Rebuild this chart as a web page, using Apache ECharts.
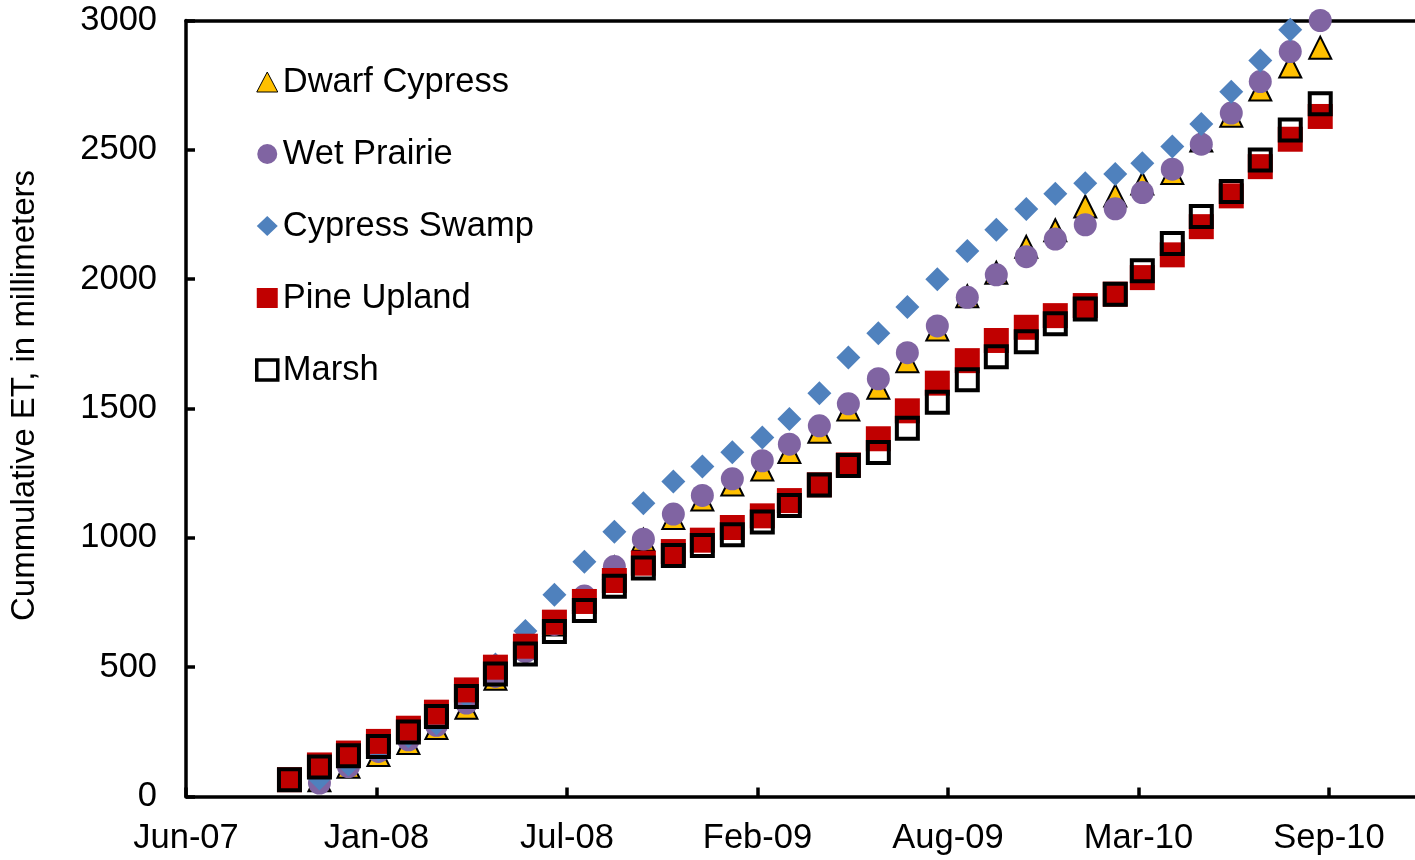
<!DOCTYPE html>
<html>
<head>
<meta charset="utf-8">
<script src="https://cdn.jsdelivr.net/npm/echarts@6/dist/echarts.min.js"></script>
<style>
  html, body { margin: 0; padding: 0; background: #fff; }
  #chart { width: 1415px; height: 860px; }
</style>
</head>
<body>
<div id="chart"></div>
<script>
// Observation dates (monthly)
const dates = [
  '2007-10-15','2007-11-15','2007-12-15','2008-01-15','2008-02-15','2008-03-15',
  '2008-04-15','2008-05-15','2008-06-15','2008-07-15','2008-08-15','2008-09-15',
  '2008-10-15','2008-11-15','2008-12-15','2009-01-15','2009-02-15','2009-03-15',
  '2009-04-15','2009-05-15','2009-06-15','2009-07-15','2009-08-15','2009-09-15',
  '2009-10-15','2009-11-15','2009-12-15','2010-01-15','2010-02-15','2010-03-15',
  '2010-04-15','2010-05-15','2010-06-15','2010-07-15','2010-08-15','2010-09-15'
];
// Cumulative ET, millimeters
const dwarfCypress = [null, 63, 115, 160, 207, 265, 343, 455, 575, 665, 765, 885, 993, 1077, 1148, 1206, 1264, 1332, 1410, 1496, 1580, 1683, 1805, 1934, 2025, 2125, 2189, 2281, 2323, 2370, 2410, 2536, 2632, 2733, 2822, 2895];
const wetPrairie   = [null, 52, 116, 174, 219, 275, 361, 464, 560, 665, 775, 889, 995, 1092, 1164, 1228, 1298, 1362, 1433, 1518, 1615, 1716, 1819, 1930, 2017, 2087, 2155, 2210, 2272, 2335, 2425, 2522, 2642, 2764, 2880, 3000];
const cypressSwamp = [null, 70, 124, 182, 233, 282, 388, 510, 640, 780, 908, 1024, 1134, 1218, 1276, 1331, 1388, 1459, 1559, 1697, 1791, 1892, 2000, 2109, 2191, 2271, 2330, 2371, 2407, 2448, 2513, 2600, 2725, 2845, 2964, null];
const pineUpland   = [65, 122, 168, 213, 264, 326, 412, 500, 581, 674, 754, 835, 902, 947, 991, 1040, 1085, 1144, 1205, 1282, 1383, 1491, 1598, 1685, 1763, 1814, 1859, 1898, 1942, 2006, 2094, 2203, 2322, 2435, 2541, 2629];
const marsh        = [65, 114, 158, 193, 249, 309, 387, 474, 551, 638, 719, 813, 883, 932, 970, 1012, 1061, 1125, 1204, 1280, 1330, 1424, 1524, 1611, 1700, 1758, 1828, 1885, 1942, 2033, 2138, 2242, 2339, 2461, 2577, 2678];

const seriesNames = ['Dwarf Cypress', 'Wet Prairie', 'Cypress Swamp', 'Pine Upland', 'Marsh'];
const xTickLabels = ['Jun-07', 'Jan-08', 'Jul-08', 'Feb-09', 'Aug-09', 'Mar-10', 'Sep-10'];
const yTickLabels = ['0', '500', '1000', '1500', '2000', '2500', '3000'];

const DAY = 86400000;
const toDay = s => Date.parse(s + 'T00:00:00Z') / DAY;
const xMin = toDay('2007-06-30');
const xStep = 197;
const xMax = xMin + 1271;

function pairs(vals) {
  const out = [];
  vals.forEach((v, i) => { if (v !== null) out.push([toDay(dates[i]), v]); });
  return out;
}

const FONT = '"Liberation Sans", Arial, Helvetica, sans-serif';
const FS = 34.5;
const AX = { color: '#000', width: 3.5 };

const chart = echarts.init(document.getElementById('chart'), null, { renderer: 'canvas' });
chart.setOption({
  animation: false,
  backgroundColor: '#fff',
  textStyle: { fontFamily: FONT },
  grid: { left: 182, right: 0, top: 20.5, bottom: 63.5, containLabel: false },
  legend: {
    orient: 'vertical',
    left: 250,
    top: 57,
    padding: 5,
    itemWidth: 21,
    itemHeight: 20,
    itemGap: 32,
    textStyle: { fontFamily: FONT, fontSize: FS, color: '#000', lineHeight: 40 },
    data: [
      { name: 'Dwarf Cypress', icon: 'triangle', itemStyle: { borderWidth: 1, borderColor: '#000' } },
      { name: 'Wet Prairie', icon: 'circle' },
      { name: 'Cypress Swamp', icon: 'diamond' },
      { name: 'Pine Upland', icon: 'rect' },
      { name: 'Marsh', icon: 'rect', itemStyle: { borderWidth: 3.5, borderColor: '#000' } }
    ]
  },
  xAxis: [{
    type: 'value',
    min: xMin, max: xMax, interval: xStep,
    axisLine: { show: true, lineStyle: AX },
    axisTick: { show: true, inside: true, length: 9, lineStyle: AX },
    splitLine: { show: false },
    axisLabel: {
      show: true, showMaxLabel: false, margin: 24,
      fontFamily: FONT, fontSize: FS, color: '#000',
      formatter: v => xTickLabels[Math.round((v - xMin) / xStep)] || ''
    }
  }, {
    type: 'value', position: 'top',
    min: xMin, max: xMax,
    axisLine: { show: true, lineStyle: AX },
    axisTick: { show: false }, axisLabel: { show: false }, splitLine: { show: false }
  }],
  yAxis: {
    type: 'value',
    min: 0, max: 3000, interval: 500,
    name: 'Cummulative ET, in millimeters',
    nameLocation: 'middle',
    nameGap: 145,
    nameTextStyle: { fontFamily: FONT, fontSize: 33, color: '#000', padding: [0, 0, 0, 26] },
    axisLine: { show: true, lineStyle: AX },
    axisTick: { show: true, inside: true, length: 9, lineStyle: AX },
    splitLine: { show: false },
    axisLabel: {
      margin: 29, fontFamily: FONT, fontSize: FS, color: '#000',
      formatter: v => yTickLabels[Math.round(v / 500)]
    }
  },
  series: [
    { name: seriesNames[0], type: 'scatter', clip: false, symbol: 'triangle', symbolSize: 22,
      itemStyle: { color: '#FFC000', borderColor: '#000', borderWidth: 2, opacity: 1 },
      data: pairs(dwarfCypress) },
    { name: seriesNames[1], type: 'scatter', clip: false, symbol: 'circle', symbolSize: 23,
      itemStyle: { color: '#8064A2', opacity: 1 },
      data: pairs(wetPrairie) },
    { name: seriesNames[2], type: 'scatter', clip: false, symbol: 'diamond', symbolSize: 24,
      itemStyle: { color: '#4F81BD', opacity: 1 },
      data: pairs(cypressSwamp) },
    { name: seriesNames[3], type: 'scatter', clip: false, symbol: 'rect', symbolSize: 25,
      itemStyle: { color: '#C00000', opacity: 1 },
      data: pairs(pineUpland) },
    { name: seriesNames[4], type: 'scatter', clip: false, symbol: 'rect', symbolSize: 21,
      itemStyle: { color: 'rgba(255,255,255,0)', borderColor: '#000', borderWidth: 4, opacity: 1 },
      data: pairs(marsh) }
  ]
});
</script>
</body>
</html>
